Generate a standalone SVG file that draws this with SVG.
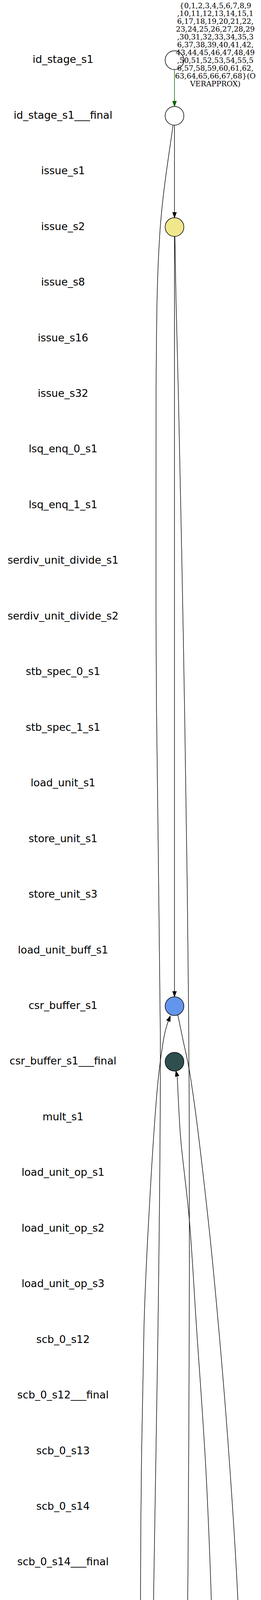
<svg xmlns="http://www.w3.org/2000/svg" width="669" height="7164" viewBox="0 0 669 7164">
<style>
.lbl{font-family:"DejaVu Sans","Liberation Sans",sans-serif;font-size:26.67px;text-anchor:middle;fill:#000}
.el{font-family:"DejaVu Serif","Liberation Serif",serif;font-size:18.67px;text-anchor:middle;fill:#000}
.n{stroke:#000;stroke-width:1.5}
.w{fill:#fff}.k{fill:#f0e68c}.b{fill:#6495ed}.d{fill:#2f4f4f}
.e{fill:none;stroke:#000;stroke-width:1.4;marker-end:url(#ah)}
.g{fill:none;stroke:#006400;stroke-width:1.4;marker-end:url(#ahg)}
</style>
<defs>
<marker id="ah" viewBox="0 -6 16 12" refX="0" refY="0" markerWidth="16" markerHeight="12" markerUnits="userSpaceOnUse" orient="auto" overflow="visible"><path d="M0,-4.67 L13.3,0 L0,4.67 Z" fill="#000" stroke="#000" stroke-width="1.4"/></marker>
<marker id="ahg" viewBox="0 -6 16 12" refX="0" refY="0" markerWidth="16" markerHeight="12" markerUnits="userSpaceOnUse" orient="auto" overflow="visible"><path d="M0,-4.67 L13.3,0 L0,4.67 Z" fill="#006400" stroke="#006400" stroke-width="1.4"/></marker>
</defs>
<rect x="0" y="0" width="669" height="7164" fill="#fff"/>
<g id="row-labels">
<g id="lbl_id_stage_s1"><text class="lbl" x="161.5" y="161.3">id_stage_s1</text></g>
<g id="lbl_id_stage_s1___final"><text class="lbl" x="161.5" y="303.75">id_stage_s1___final</text></g>
<g id="lbl_issue_s1"><text class="lbl" x="161.5" y="446.2">issue_s1</text></g>
<g id="lbl_issue_s2"><text class="lbl" x="161.5" y="588.65">issue_s2</text></g>
<g id="lbl_issue_s8"><text class="lbl" x="161.5" y="731.1">issue_s8</text></g>
<g id="lbl_issue_s16"><text class="lbl" x="161.5" y="873.55">issue_s16</text></g>
<g id="lbl_issue_s32"><text class="lbl" x="161.5" y="1016">issue_s32</text></g>
<g id="lbl_lsq_enq_0_s1"><text class="lbl" x="161.5" y="1158.45">lsq_enq_0_s1</text></g>
<g id="lbl_lsq_enq_1_s1"><text class="lbl" x="161.5" y="1300.9">lsq_enq_1_s1</text></g>
<g id="lbl_serdiv_unit_divide_s1"><text class="lbl" x="161.5" y="1443.35">serdiv_unit_divide_s1</text></g>
<g id="lbl_serdiv_unit_divide_s2"><text class="lbl" x="161.5" y="1585.8">serdiv_unit_divide_s2</text></g>
<g id="lbl_stb_spec_0_s1"><text class="lbl" x="161.5" y="1728.25">stb_spec_0_s1</text></g>
<g id="lbl_stb_spec_1_s1"><text class="lbl" x="161.5" y="1870.7">stb_spec_1_s1</text></g>
<g id="lbl_load_unit_s1"><text class="lbl" x="161.5" y="2013.15">load_unit_s1</text></g>
<g id="lbl_store_unit_s1"><text class="lbl" x="161.5" y="2155.6">store_unit_s1</text></g>
<g id="lbl_store_unit_s3"><text class="lbl" x="161.5" y="2298.05">store_unit_s3</text></g>
<g id="lbl_load_unit_buff_s1"><text class="lbl" x="161.5" y="2440.5">load_unit_buff_s1</text></g>
<g id="lbl_csr_buffer_s1"><text class="lbl" x="161.5" y="2582.95">csr_buffer_s1</text></g>
<g id="lbl_csr_buffer_s1___final"><text class="lbl" x="161.5" y="2725.4">csr_buffer_s1___final</text></g>
<g id="lbl_mult_s1"><text class="lbl" x="161.5" y="2867.85">mult_s1</text></g>
<g id="lbl_load_unit_op_s1"><text class="lbl" x="161.5" y="3010.3">load_unit_op_s1</text></g>
<g id="lbl_load_unit_op_s2"><text class="lbl" x="161.5" y="3152.75">load_unit_op_s2</text></g>
<g id="lbl_load_unit_op_s3"><text class="lbl" x="161.5" y="3295.2">load_unit_op_s3</text></g>
<g id="lbl_scb_0_s12"><text class="lbl" x="161.5" y="3437.65">scb_0_s12</text></g>
<g id="lbl_scb_0_s12___final"><text class="lbl" x="161.5" y="3580.1">scb_0_s12___final</text></g>
<g id="lbl_scb_0_s13"><text class="lbl" x="161.5" y="3722.55">scb_0_s13</text></g>
<g id="lbl_scb_0_s14"><text class="lbl" x="161.5" y="3865">scb_0_s14</text></g>
<g id="lbl_scb_0_s14___final"><text class="lbl" x="161.5" y="4007.45">scb_0_s14___final</text></g>
<g id="lbl_scb_0_s8"><text class="lbl" x="161.5" y="4149.9">scb_0_s8</text></g>
<g id="lbl_scb_1_s12"><text class="lbl" x="161.5" y="4292.35">scb_1_s12</text></g>
<g id="lbl_scb_1_s12___final"><text class="lbl" x="161.5" y="4434.8">scb_1_s12___final</text></g>
<g id="lbl_scb_1_s13"><text class="lbl" x="161.5" y="4577.25">scb_1_s13</text></g>
<g id="lbl_scb_1_s14"><text class="lbl" x="161.5" y="4719.7">scb_1_s14</text></g>
<g id="lbl_scb_1_s14___final"><text class="lbl" x="161.5" y="4862.15">scb_1_s14___final</text></g>
<g id="lbl_scb_1_s8"><text class="lbl" x="161.5" y="5004.6">scb_1_s8</text></g>
<g id="lbl_scb_2_s12"><text class="lbl" x="161.5" y="5147.05">scb_2_s12</text></g>
<g id="lbl_scb_2_s12___final"><text class="lbl" x="161.5" y="5289.5">scb_2_s12___final</text></g>
<g id="lbl_scb_2_s13"><text class="lbl" x="161.5" y="5431.95">scb_2_s13</text></g>
<g id="lbl_scb_2_s14"><text class="lbl" x="161.5" y="5574.4">scb_2_s14</text></g>
<g id="lbl_scb_2_s14___final"><text class="lbl" x="161.5" y="5716.85">scb_2_s14___final</text></g>
<g id="lbl_scb_2_s8"><text class="lbl" x="161.5" y="5859.3">scb_2_s8</text></g>
<g id="lbl_scb_3_s12"><text class="lbl" x="161.5" y="6001.75">scb_3_s12</text></g>
<g id="lbl_scb_3_s12___final"><text class="lbl" x="161.5" y="6144.2">scb_3_s12___final</text></g>
<g id="lbl_scb_3_s13"><text class="lbl" x="161.5" y="6286.65">scb_3_s13</text></g>
<g id="lbl_scb_3_s14"><text class="lbl" x="161.5" y="6429.1">scb_3_s14</text></g>
<g id="lbl_scb_3_s14___final"><text class="lbl" x="161.5" y="6571.55">scb_3_s14___final</text></g>
<g id="lbl_scb_3_s8"><text class="lbl" x="161.5" y="6714">scb_3_s8</text></g>
<g id="lbl_stb_com_0_s1"><text class="lbl" x="161.5" y="6856.45">stb_com_0_s1</text></g>
<g id="lbl_stb_com_1_s1"><text class="lbl" x="161.5" y="6998.9">stb_com_1_s1</text></g>
<g id="lbl_mem_req_s1"><text class="lbl" x="161.5" y="7141.35">mem_req_s1</text></g>
</g>
<g id="nodes">
<g id="id_stage_s1"><circle class="n w" cx="447.3" cy="154" r="24"/></g>
<g id="id_stage_s1___final"><circle class="n w" cx="447.3" cy="296.45" r="24"/></g>
<g id="issue_s2"><circle class="n k" cx="447.3" cy="581.35" r="24"/></g>
<g id="csr_buffer_s1"><circle class="n b" cx="447.3" cy="2575.65" r="24"/></g>
<g id="csr_buffer_s1___final"><circle class="n d" cx="447.3" cy="2718.1" r="24"/></g>
<g id="scb_3_s12"><circle class="n b" cx="447.3" cy="5994.45" r="24"/></g>
<g id="scb_3_s12___final"><circle class="n w" cx="447.3" cy="6136.9" r="24"/></g>
<g id="scb_3_s13"><circle class="n d" cx="447.3" cy="6279.35" r="24"/></g>
<g id="scb_3_s8"><circle class="n k" cx="447.3" cy="6706.7" r="24"/></g>
</g>
<g id="connectors">
<g id="e_id_stage_s1__id_stage_s1___final"><path class="g" d="M447.3,178.5 L447.3,259.2"/></g>
<g id="e_id_stage_s1___final__issue_s2"><path class="e" d="M447.3,320.9 L447.3,543.9"/></g>
<g id="e_id_stage_s1___final__scb_3_s8"><path class="e" d="M443.4,321 C437.75,367.5 416.7,486.8 409.5,600 C402.3,713.2 401.4,800 400,1000 C398.6,1200 399.2,1525 401,1800 C402.8,2075 410.3,2383.3 411,2650 C411.7,2916.7 408.2,3143.3 405,3400 C401.8,3656.7 396,3923.3 392,4190 C388,4456.7 382.2,4761.7 381,5000 C379.8,5238.3 382.3,5453.3 385,5620 C387.7,5786.7 392.7,5881.7 397,6000 C401.3,6118.3 406,6238.3 411,6330 C416,6421.7 421.8,6493.3 427,6550 C432.2,6606.7 439.5,6650 442,6670"/></g>
<g id="e_issue_s2__csr_buffer_s1"><path class="e" d="M447.3,605.8 L447.3,2538.2"/></g>
<g id="e_issue_s2__scb_3_s12"><path class="e" d="M448.3,605.7 C448.75,631.4 449.55,694.3 451,760 C452.45,825.7 453.8,853.7 457,1000 C460.2,1146.3 466.2,1425.5 470,1638 C473.8,1850.5 477.6,2089 480,2275 C482.4,2461 483.6,2591.5 484.5,2754 C485.4,2916.5 485.9,3042.3 485.5,3250 C485.1,3457.7 483.6,3783.3 482,4000 C480.4,4216.7 478.5,4375 476,4550 C473.5,4725 470.1,4883.3 467,5050 C463.9,5216.7 460.25,5416.7 457.5,5550 C454.75,5683.3 452.2,5782 450.5,5850 C448.8,5918 447.4,5940 447.4,5957"/></g>
<g id="e_scb_3_s8__csr_buffer_s1"><path class="e" d="M445,6683 C442,6660.8 432.8,6622.2 427,6550 C421.2,6477.8 415.7,6375 410,6250 C404.3,6125 398,5958.3 393,5800 C388,5641.7 384.3,5466.7 380,5300 C375.7,5133.3 370.2,4950 367,4800 C363.8,4650 362,4550 361,4400 C360,4250 359.7,4066.7 361,3900 C362.3,3733.3 365.3,3536.2 369,3400 C372.7,3263.8 377.8,3183 383.3,3083 C388.8,2983 396.2,2869.4 402,2800 C407.8,2730.6 413.35,2697.8 418.3,2666.7 C423.25,2635.6 429.5,2619 431.7,2613.3"/></g>
<g id="e_scb_3_s8__scb_3_s12"><path class="e" d="M442,6683 C440,6674.7 434.2,6655.2 430,6633 C425.8,6610.8 420.7,6588.8 416.7,6550 C412.7,6511.2 408.1,6450 406,6400 C403.9,6350 403.5,6288.3 404,6250 C404.5,6211.7 406.2,6199.2 409,6170 C411.8,6140.8 417,6098.6 421,6075 C425,6051.4 431.2,6032.1 433.1,6028.6"/></g>
<g id="e_csr_buffer_s1__scb_3_s12___final"><path class="e" d="M456,2599 C458.3,2610.3 464.8,2641.5 470,2666.7 C475.2,2691.9 480.3,2708.3 487,2750 C493.7,2791.7 500,2833.4 510,2916.7 C520,3000 534.2,3119.4 546.7,3250 C559.2,3380.6 574.1,3550 585,3700 C595.9,3850 606.7,4008.3 612,4150 C617.3,4291.7 619.3,4416.7 617,4550 C614.7,4683.3 607,4825 598,4950 C589,5075 574.6,5191.7 563.3,5300 C552,5408.3 539.3,5516.7 530,5600 C520.7,5683.3 514.4,5740 507.7,5800 C501,5860 496,5917.5 490,5960 C484,6002.5 477.1,6031.6 472,6055 C466.9,6078.4 460.5,6096.6 459.2,6100.4"/></g>
<g id="e_scb_3_s12___final__csr_buffer_s1___final"><path class="e" d="M455.5,6113 C457.6,6105 462.75,6085.5 468,6065 C473.25,6044.5 480.8,6034.2 487,5990 C493.2,5945.8 496.5,5915 505,5800 C513.5,5685 530.5,5466.7 538,5300 C545.5,5133.3 548.5,4966.7 550,4800 C551.5,4633.3 550.3,4465.7 547,4300 C543.7,4134.3 537.3,3957.3 530,3806 C522.7,3654.7 510.7,3505.2 503.3,3392 C495.9,3278.8 492.4,3205.9 485.7,3126.7 C479,3047.5 468.6,2978.7 463.3,2916.7 C458,2854.7 455,2759 454,2754.7"/></g>
<g id="e_scb_3_s12__scb_3_s12___final"><path class="g" d="M447.3,6018.9 L447.3,6099.5"/></g>
<g id="e_scb_3_s12___final__scb_3_s13"><path class="e" d="M447.3,6161.3 L447.3,6241.9"/></g>
<g id="label_id_stage_s1__id_stage_s1___final">
<text class="el" x="552" y="20.7">{0,1,2,3,4,5,6,7,8,9</text>
<text class="el" x="552" y="40.7">,10,11,12,13,14,15,1</text>
<text class="el" x="552" y="60.7">6,17,18,19,20,21,22,</text>
<text class="el" x="552" y="80.7">23,24,25,26,27,28,29</text>
<text class="el" x="552" y="100.7">,30,31,32,33,34,35,3</text>
<text class="el" x="552" y="120.7">6,37,38,39,40,41,42,</text>
<text class="el" x="552" y="140.7">43,44,45,46,47,48,49</text>
<text class="el" x="552" y="160.7">,50,51,52,53,54,55,5</text>
<text class="el" x="552" y="180.7">6,57,58,59,60,61,62,</text>
<text class="el" x="552" y="200.7">63,64,65,66,67,68}(O</text>
<text class="el" x="552" y="220.7">VERAPPROX)</text>
</g>
<g id="label_scb_3_s12__scb_3_s12___final">
<text class="el" x="554.5" y="5961.7">{0,1,2,3,4,5,6,7,8,9</text>
<text class="el" x="554.5" y="5981.7">,10,11,12,13,14,15,1</text>
<text class="el" x="554.5" y="6001.7">6,17,18,19,20,21,22,</text>
<text class="el" x="554.5" y="6021.7">23,24,25,26,27,28,29</text>
<text class="el" x="554.5" y="6041.7">,30,31,32,33,34}(OVE</text>
<text class="el" x="554.5" y="6061.7">RAPPROX)</text>
</g>
</g>
</svg>
